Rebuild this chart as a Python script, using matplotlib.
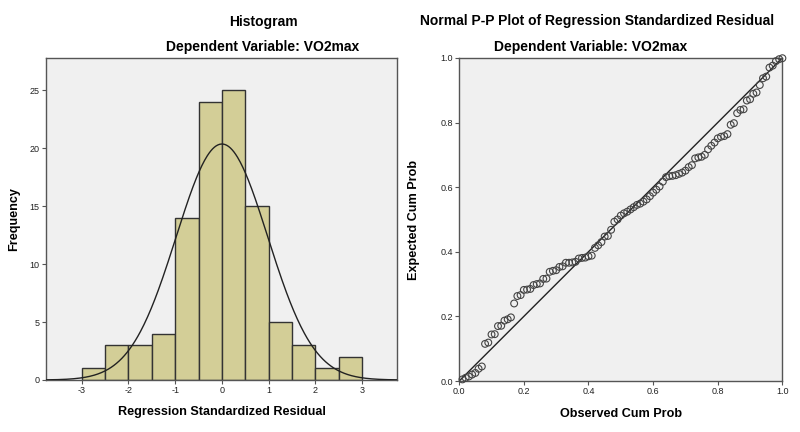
import numpy as np
import matplotlib
matplotlib.use("Agg")
import matplotlib.pyplot as plt

plt.rcParams['font.family'] = ['Liberation Sans', 'DejaVu Sans']
plt.rcParams['axes.unicode_minus'] = False

# histogram of standardized residuals (bin edges and counts)
bin_edges = [-3.0, -2.5, -2.0, -1.5, -1.0, -0.5, 0.0, 0.5, 1.0, 1.5, 2.0, 2.5, 3.0]
counts = [1, 3, 3, 4, 14, 24, 25, 15, 5, 3, 1, 2]
resid_mean = 0.0
resid_sd = 0.98
hist_xticks = [-3, -2, -1, 0, 1, 2, 3]
hist_yticks = [0, 5, 10, 15, 20, 25]

# P-P plot points
observed = [
    0.01, 0.02, 0.03, 0.04, 0.05, 0.06, 0.07, 0.08, 0.09, 0.10,
    0.11, 0.12, 0.13, 0.14, 0.15, 0.16, 0.17, 0.18, 0.19, 0.20,
    0.21, 0.22, 0.23, 0.24, 0.25, 0.26, 0.27, 0.28, 0.29, 0.30,
    0.31, 0.32, 0.33, 0.34, 0.35, 0.36, 0.37, 0.38, 0.39, 0.40,
    0.41, 0.42, 0.43, 0.44, 0.45, 0.46, 0.47, 0.48, 0.49, 0.50,
    0.51, 0.52, 0.53, 0.54, 0.55, 0.56, 0.57, 0.58, 0.59, 0.60,
    0.61, 0.62, 0.63, 0.64, 0.65, 0.66, 0.67, 0.68, 0.69, 0.70,
    0.71, 0.72, 0.73, 0.74, 0.75, 0.76, 0.77, 0.78, 0.79, 0.80,
    0.81, 0.82, 0.83, 0.84, 0.85, 0.86, 0.87, 0.88, 0.89, 0.90,
    0.91, 0.92, 0.93, 0.94, 0.95, 0.96, 0.97, 0.98, 0.99, 1.00,
]
expected = [
    0.005, 0.010, 0.014, 0.020, 0.025, 0.038, 0.045, 0.115, 0.119, 0.144,
    0.145, 0.170, 0.171, 0.187, 0.191, 0.197, 0.240, 0.263, 0.266, 0.282,
    0.283, 0.285, 0.297, 0.300, 0.302, 0.316, 0.317, 0.338, 0.341, 0.343,
    0.353, 0.355, 0.366, 0.366, 0.367, 0.369, 0.379, 0.381, 0.382, 0.386,
    0.388, 0.412, 0.420, 0.430, 0.447, 0.449, 0.468, 0.493, 0.500, 0.512,
    0.519, 0.524, 0.531, 0.538, 0.545, 0.549, 0.555, 0.562, 0.572, 0.583,
    0.592, 0.602, 0.617, 0.631, 0.634, 0.635, 0.637, 0.641, 0.645, 0.651,
    0.662, 0.668, 0.689, 0.692, 0.694, 0.700, 0.717, 0.728, 0.738, 0.751,
    0.756, 0.758, 0.764, 0.793, 0.798, 0.829, 0.839, 0.841, 0.868, 0.872,
    0.889, 0.893, 0.916, 0.937, 0.942, 0.970, 0.976, 0.990, 0.996, 0.999,
]
pp_ticks = [0.0, 0.2, 0.4, 0.6, 0.8, 1.0]

bg = '#f0f0f0'
bar_color = '#d3ce97'
edge = '#333333'
frame = '#555555'

fig = plt.figure(figsize=(8, 4.32), dpi=100)
ax1 = fig.add_axes([0.0575, 0.1204, 0.439, 0.745])
ax2 = fig.add_axes([0.574, 0.118, 0.404, 0.748])

# histogram
lefts = bin_edges[:-1]
widths = np.diff(bin_edges)
ax1.bar(lefts, counts, width=widths, align='edge', color=bar_color,
        edgecolor=edge, linewidth=1.0, zorder=2)
xs = np.linspace(-3.8, 3.8, 400)
n = sum(counts)
pdf = np.exp(-0.5 * ((xs - resid_mean) / resid_sd) ** 2) / (resid_sd * np.sqrt(2 * np.pi))
ax1.plot(xs, n * widths[0] * pdf, color='#222222', linewidth=1.0, zorder=3)
ax1.set_xlim(-3.765, 3.75)
ax1.set_ylim(0, 27.76)
ax1.set_xticks(hist_xticks)
ax1.set_yticks(hist_yticks)
ax1.set_xlabel('Regression Standardized Residual', fontsize=9.1, fontweight='bold')
ax1.set_ylabel('Frequency', fontsize=9.1, fontweight='bold')
ax1.xaxis.set_label_coords(0.5, -0.08)
ax1.yaxis.set_label_coords(-0.074, 0.5)

# P-P plot
ax2.plot([0, 1], [0, 1], color='#222222', linewidth=1.0, zorder=2)
ax2.scatter(observed, expected, s=24, facecolors='none', edgecolors='#444444',
            linewidths=0.8, zorder=3, clip_on=False)
ax2.set_xlim(0, 1)
ax2.set_ylim(0, 1)
ax2.set_xticks(pp_ticks)
ax2.set_yticks(pp_ticks)
ax2.xaxis.set_major_formatter(plt.FormatStrFormatter('%.1f'))
ax2.yaxis.set_major_formatter(plt.FormatStrFormatter('%.1f'))
ax2.set_xlabel('Observed Cum Prob', fontsize=9.1, fontweight='bold')
ax2.set_ylabel('Expected Cum Prob', fontsize=9.1, fontweight='bold')
ax2.xaxis.set_label_coords(0.5, -0.082)
ax2.yaxis.set_label_coords(-0.121, 0.5)

for ax in (ax1, ax2):
    ax.set_facecolor(bg)
    for s in ax.spines.values():
        s.set_color(frame)
        s.set_linewidth(1.0)
    ax.tick_params(length=3, width=0.8, color=frame, labelsize=6.5,
                   labelcolor='#222222', pad=1.5)

# titles placed as in the original output
fig.text(263 / 800, 1 - 22 / 432, 'Histogram', ha='center', va='center',
         fontsize=10, fontweight='bold')
fig.text(263 / 800, 1 - 47 / 432, 'Dependent Variable: VO2max', ha='center',
         va='center', fontsize=10, fontweight='bold')
fig.text(597 / 800, 1 - 21 / 432, 'Normal P-P Plot of Regression Standardized Residual',
         ha='center', va='center', fontsize=10, fontweight='bold')
fig.text(591 / 800, 1 - 47 / 432, 'Dependent Variable: VO2max', ha='center',
         va='center', fontsize=10, fontweight='bold')

fig.savefig('out.png', dpi=100, facecolor='white')
